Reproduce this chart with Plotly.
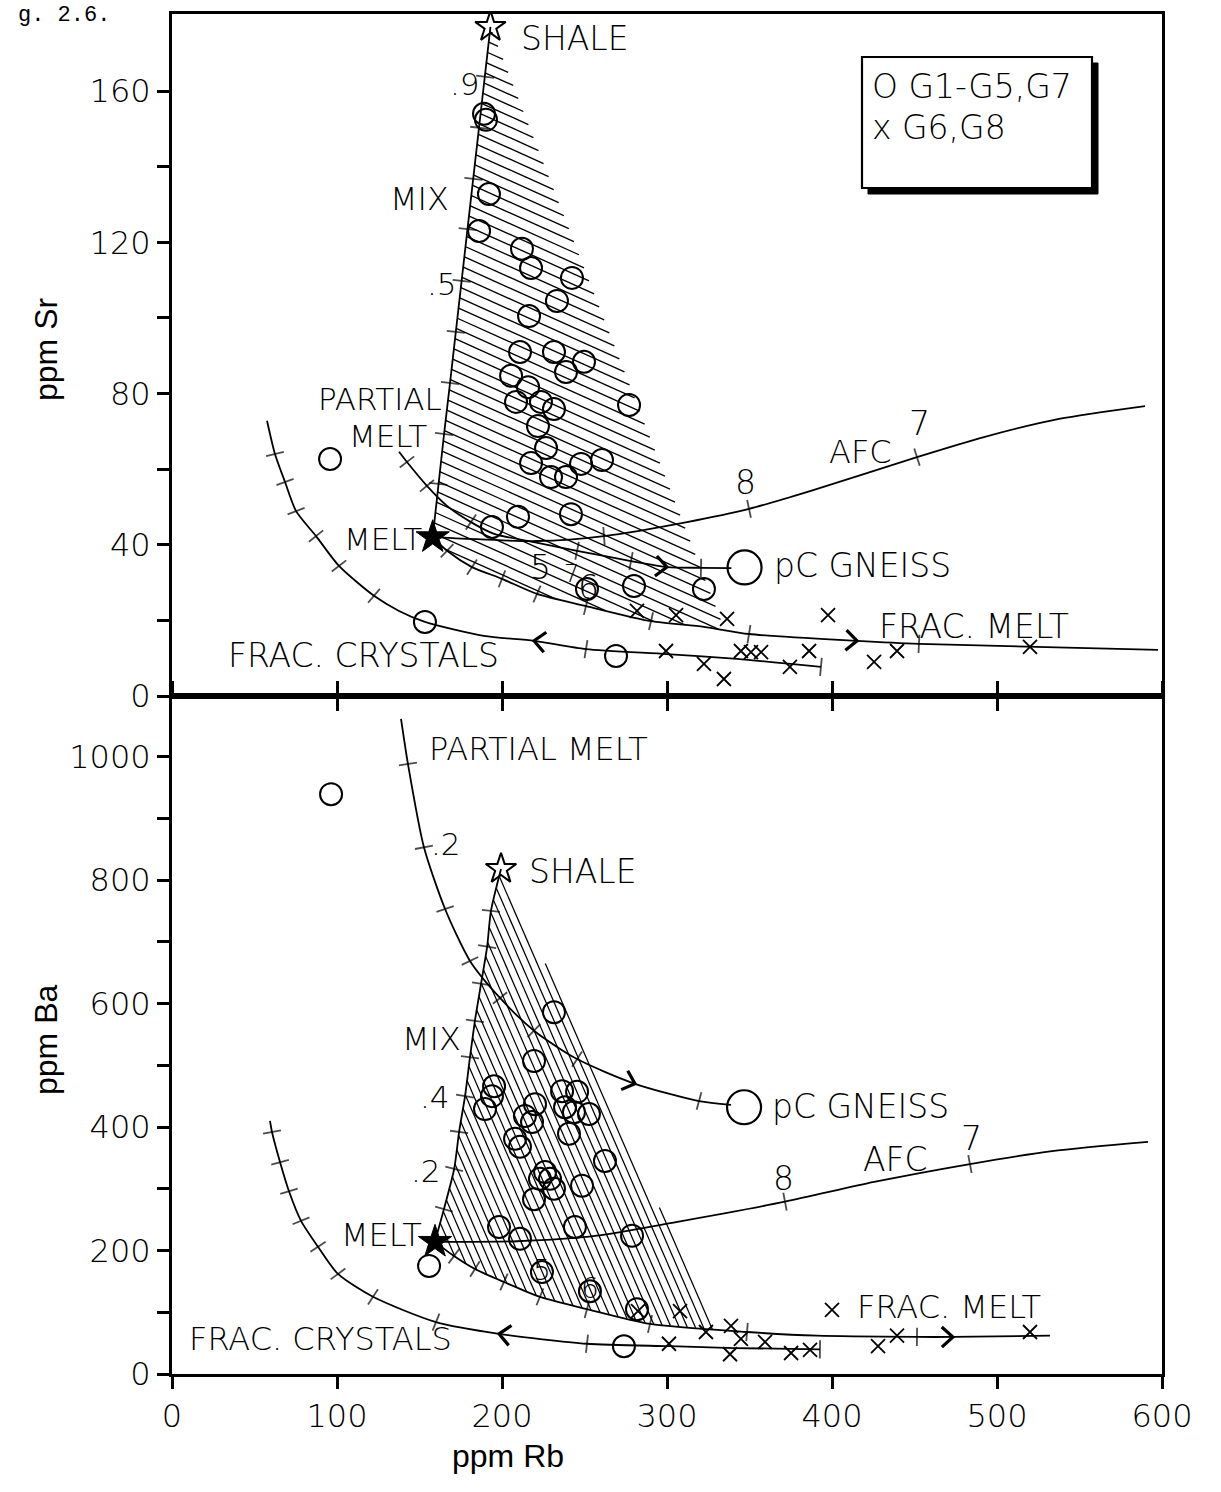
import numpy as np
import plotly.graph_objects as go

INK = "black"
FONT = "DejaVu Sans"
FONT_WEIGHT = 200

# ---------------- axes ----------------
RB_RANGE = [0, 600]
SR_RANGE = [0, 180.4]
BA_RANGE = [0, 1098]
RB_TICKS = [0, 100, 200, 300, 400, 500, 600]
SR_TICKS = [0, 20, 40, 60, 80, 100, 120, 140, 160]
SR_TICK_TEXT = ["0", "", "40", "", "80", "", "120", "", "160"]
BA_TICKS = [0, 100, 200, 300, 400, 500, 600, 700, 800, 900, 1000]
BA_TICK_TEXT = ["0", "", "200", "", "400", "", "600", "", "800", "", "1000"]

# ---------------- Sr vs Rb (upper panel) ----------------
SR_SHALE = (193.0, 177.0)
SR_MELT = (158.0, 42.0)
SR_GNEISS = (347.0, 34.0)

# melt - shale mixing line, ticks every 0.1
SR_MIX_RB = [158.0, 161.4, 164.9, 168.5, 172.0, 175.6, 179.2, 182.7, 186.2, 189.8, 193.0]
SR_MIX_SR = [42.0, 56.1, 69.3, 82.8, 96.3, 109.8, 123.5, 136.8, 150.3, 163.8, 177.0]

SR_PM_RB = [137.6, 142.4, 154.5, 166.7, 181.2, 195.2, 219.4, 245.5, 278.2, 300.0, 320.6, 339.0]
SR_PM_SR = [64.6, 61.9, 55.6, 50.3, 46.0, 42.9, 40.7, 38.4, 35.7, 34.1, 33.9, 33.8]
SR_PM_TICKS = [1, 2, 4, 7, 8, 10]

SR_FM_RB = [158.0, 166.7, 181.8, 200.0, 221.2, 250.9, 290.3, 322.4, 349.7, 415.2, 452.7, 597.6]
SR_FM_SR = [42.0, 38.4, 34.1, 31.0, 27.0, 23.8, 19.8, 18.3, 16.4, 14.6, 13.8, 12.2]
SR_FM_TICKS = [1, 2, 3, 4, 5, 6, 8, 10]

SR_FC_RB = [57.6, 62.4, 68.5, 75.2, 87.3, 101.2, 122.4, 137.6, 153.3, 189.0, 219.4, 250.9, 300.0, 342.4, 393.3]
SR_FC_SR = [72.8, 64.0, 56.6, 48.9, 42.3, 34.4, 26.5, 22.5, 19.6, 15.9, 14.6, 12.4, 11.1, 9.8, 7.7]
SR_FC_TICKS = [0, 1, 2, 3, 4, 5, 6, 11, 14]

SR_AFC_RB = [158.0, 221.2, 261.8, 312.1, 349.7, 386.7, 451.5, 492.1, 537.6, 589.7]
SR_AFC_SR = [42.0, 41.0, 42.3, 46.0, 49.5, 54.2, 63.2, 68.5, 73.3, 76.7]
SR_AFC_TICKS = [2, 4, 6]

SR_HATCH_END_RB = 335.0

# samples G1-G5, G7
SR_G1_RB = [189.1, 190.3, 192.1, 186.1, 212.1, 217.6, 242.4, 233.3, 216.4, 210.9, 231.5, 249.7,
            238.8, 205.5, 215.8, 208.5, 223.6, 231.5, 277.0, 221.8, 226.7, 217.6, 247.9, 260.6,
            229.7, 238.8, 241.8, 209.7, 193.9, 280.0, 251.5, 322.4, 95.8, 153.3, 269.1]
SR_G1_SR = [154.0, 152.4, 132.8, 123.0, 118.3, 113.2, 110.6, 104.5, 100.5, 91.0, 91.0, 88.4,
            85.7, 84.7, 81.7, 77.8, 77.8, 75.9, 77.0, 71.4, 65.6, 61.6, 61.4, 62.4,
            57.9, 57.9, 48.1, 47.4, 44.7, 29.1, 28.3, 28.3, 62.7, 19.6, 10.6]
# samples G6, G8
SR_G6_RB = [281.8, 305.5, 336.4, 397.6, 299.4, 322.4, 334.5, 344.8, 350.9, 357.0, 374.5, 386.1,
            425.5, 439.4, 520.0]
SR_G6_SR = [22.5, 21.4, 20.4, 21.4, 11.9, 8.5, 4.5, 11.9, 11.6, 11.6, 7.7, 11.9,
            9.0, 11.9, 13.0]

# ---------------- Ba vs Rb (lower panel) ----------------
BA_SHALE = (199.4, 818.0)
BA_MELT = (159.4, 214.0)
BA_GNEISS = (346.7, 432.0)

BA_MIX_RB = [159.4, 164.8, 171.0, 174.0, 177.6, 180.6, 183.6, 187.3, 191.0, 193.3, 199.4]
BA_MIX_BA = [214, 267, 332, 392, 450, 513, 572, 632, 692, 750, 818]

BA_PM_RB = [138.8, 143.0, 152.7, 165.5, 180.6, 198.8, 219.4, 245.5, 280.6, 319.4, 338.8]
BA_PM_BA = [1061, 988, 853, 753, 669, 609, 556, 510, 470, 442, 436]
BA_PM_TICKS = [1, 2, 3, 4, 5, 6, 7, 9]

BA_FM_RB = [159.4, 170.9, 183.6, 201.2, 223.0, 251.5, 289.7, 348.5, 390.9, 451.5, 473.3, 532.1]
BA_FM_BA = [214, 191, 170, 149, 125, 105, 81, 68, 62, 60, 60, 62]
BA_FM_TICKS = [1, 2, 3, 4, 5, 6, 7, 9]

BA_FC_RB = [59.4, 60.6, 65.5, 70.9, 78.2, 88.5, 100.6, 121.8, 160.0, 198.2, 251.5, 301.8, 340.6, 392.7]
BA_FC_BA = [410, 392, 343, 296, 248, 206, 162, 125, 84, 65, 49, 45, 42, 40]
BA_FC_TICKS = [1, 2, 3, 4, 5, 6, 7, 8, 10, 13]

BA_AFC_RB = [159.4, 209.1, 257.6, 305.5, 371.5, 425.5, 483.6, 533.3, 591.5]
BA_AFC_BA = [214, 215, 224, 246, 279, 311, 340, 361, 376]
BA_AFC_TICKS = [4, 6]

BA_HATCH_END_RB = 330.0

BA_G1_RB = [231.5, 219.4, 195.2, 193.9, 189.7, 220.0, 213.9, 218.2, 207.9, 210.9, 236.4, 245.5,
            238.2, 243.6, 252.7, 240.6, 262.4, 226.1, 229.1, 223.0, 231.5, 219.4, 248.5, 198.2,
            210.9, 244.2, 278.8, 155.8, 224.2, 253.3, 96.4, 273.9, 281.8]
BA_G1_BA = [586, 507, 466, 450, 429, 437, 418, 408, 381, 368, 458, 457,
            432, 424, 421, 389, 345, 327, 316, 316, 300, 283, 305, 238,
            219, 238, 224, 175, 165, 134, 939, 45, 105]
BA_G6_RB = [307.9, 301.2, 323.6, 338.8, 344.8, 338.2, 359.4, 375.2, 386.7, 427.9, 439.4, 520.0,
            400.0, 282.4]
BA_G6_BA = [102, 49, 68, 78, 57, 32, 52, 34, 39, 45, 62, 68, 104, 102]

# ---------------- text labels (text, Rb, value, anchor, size) ----------------
SR_LABELS = [
    ("SHALE", 210.3, 173.8, "left", 33),
    (".9", 187.9, 161.9, "right", 31),
    ("MIX", 149.7, 131.5, "center", 32),
    (".5", 173.9, 109.0, "right", 31),
    ("PARTIAL", 164.8, 78.6, "right", 31),
    ("MELT", 155.8, 68.8, "right", 31),
    ("MELT", 152.7, 41.5, "right", 31),
    ("AFC", 417.0, 64.6, "center", 32),
    ("7", 453.3, 72.0, "center", 33),
    ("8", 347.3, 56.6, "center", 33),
    ("pC GNEISS", 363.6, 34.4, "left", 33),
    ("5", 223.6, 34.1, "center", 33),
    ("7", 242.4, 32.3, "center", 24),
    ("6", 252.7, 28.8, "center", 33),
    ("FRAC. MELT", 427.3, 18.3, "left", 33),
    ("FRAC. CRYSTALS", 32.7, 10.6, "left", 33),
]
BA_LABELS = [
    ("PARTIAL MELT", 154.5, 1012, "left", 32),
    (".2", 155.8, 858, "left", 31),
    ("SHALE", 215.2, 813, "left", 33),
    ("MIX", 157.0, 542, "center", 32),
    (".4", 169.7, 449, "right", 31),
    (".2", 164.2, 329, "right", 31),
    ("MELT", 152.7, 225, "right", 32),
    ("pC GNEISS", 362.4, 434, "left", 33),
    ("AFC", 438.2, 348, "center", 33),
    ("8", 370.9, 316, "center", 33),
    ("7", 484.8, 381, "center", 33),
    ("5", 224.2, 167, "center", 28),
    ("6", 253.3, 138, "center", 28),
    ("FRAC. MELT", 413.9, 108.5, "left", 32),
    ("FRAC. CRYSTALS", 9.1, 56.7, "left", 32),
]

LEGEND_LINES = ["O G1-G5,G7", "x G6,G8"]

# ---------------- page geometry ----------------
W, H = 1221, 1492
PLOT_L, PLOT_R, PLOT_T, PLOT_MID, PLOT_B = 172, 1162, 14, 696, 1374
SX = (PLOT_R - PLOT_L) / (RB_RANGE[1] - RB_RANGE[0])
SY_TOP = (PLOT_MID - PLOT_T) / (SR_RANGE[1] - SR_RANGE[0])
SY_BOT = (PLOT_B - PLOT_MID) / (BA_RANGE[1] - BA_RANGE[0])


def paper(px, py):
    return (px - PLOT_L) / (PLOT_R - PLOT_L), (PLOT_B - py) / (PLOT_B - PLOT_T)


def to_px(rb, v, sy):
    return np.column_stack([np.asarray(rb, float) * SX, -np.asarray(v, float) * sy])


def from_px(p, sy):
    return p[:, 0] / SX, -p[:, 1] / sy


def curve_until(rb, v, rb_end):
    rb = np.asarray(rb, float)
    v = np.asarray(v, float)
    keep = rb < rb_end
    return list(rb[keep]) + [rb_end], list(v[keep]) + [float(np.interp(rb_end, rb, v))]


def hatch(poly_rb, poly_v, sy, slope, gap):
    """Parallel hatch segments clipped to a polygon (slope in screen pixels)."""
    P = to_px(poly_rb, poly_v, sy)
    d = np.array([1.0, slope])
    d /= np.hypot(*d)
    n = np.array([-d[1], d[0]])
    proj = P @ n
    xs, ys = [], []
    c = proj.min() + gap / 2
    while c < proj.max():
        hits = []
        for a, b in zip(P, np.roll(P, -1, axis=0)):
            fa, fb = a @ n - c, b @ n - c
            if (fa < 0) != (fb < 0):
                hits.append(a + fa / (fa - fb) * (b - a))
        hits.sort(key=lambda q: q @ d)
        for j in range(0, len(hits) - 1, 2):
            r, v = from_px(np.array([hits[j], hits[j + 1]]), sy)
            xs += list(r) + [None]
            ys += list(v) + [None]
        c += gap
    return xs, ys


def chevron(rb, v, i, sign, sy, arm=15.0, spread=42.0):
    P = to_px(rb, v, sy)
    u = (P[min(i + 1, len(P) - 1)] - P[max(i - 1, 0)]) * sign
    u /= np.hypot(*u)
    tip = P[i]
    ends = []
    for ang in (spread, -spread):
        t = np.radians(ang)
        rot = np.array([[np.cos(t), -np.sin(t)], [np.sin(t), np.cos(t)]])
        ends.append(tip - arm * (rot @ u))
    return from_px(np.array([ends[0], tip, ends[1]]), sy)


fig = go.Figure()
PANELS = {"top": ("x", "y", SY_TOP), "bot": ("x2", "y2", SY_BOT)}


def add_line(panel, xs, ys, width=1.2):
    xa, ya, _ = PANELS[panel]
    fig.add_trace(go.Scatter(x=xs, y=ys, mode="lines", xaxis=xa, yaxis=ya,
                             line=dict(color=INK, width=width), hoverinfo="skip"))


def add_curve(panel, rb, v, ticks, shape="spline"):
    xa, ya, _ = PANELS[panel]
    sizes = [13 if i in ticks else 0 for i in range(len(rb))]
    fig.add_trace(go.Scatter(
        x=rb, y=v, mode="lines+markers", xaxis=xa, yaxis=ya, hoverinfo="skip",
        line=dict(color=INK, width=1.8, shape=shape, smoothing=0.7),
        marker=dict(symbol="line-ew", size=sizes, angleref="previous", color=INK,
                    line=dict(color=INK, width=1.8))))


def add_arrow(panel, rb, v, i, sign):
    _, _, sy = PANELS[panel]
    cx, cy = chevron(rb, v, i, sign, sy)
    add_line(panel, list(cx), list(cy), width=3.2)


def add_points(panel, rb, v, symbol, size, lw):
    xa, ya, _ = PANELS[panel]
    fig.add_trace(go.Scatter(
        x=rb, y=v, mode="markers", xaxis=xa, yaxis=ya, hoverinfo="skip",
        marker=dict(symbol=symbol, size=size, color=INK, line=dict(color=INK, width=lw))))


# ---- hatched mixing fields ----
fm_rb, fm_v = curve_until(SR_FM_RB, SR_FM_SR, SR_HATCH_END_RB)
hx, hy = hatch(SR_MIX_RB + fm_rb[::-1], SR_MIX_SR + fm_v[::-1], SY_TOP, 0.45, 9.8)
add_line("top", hx, hy, 1.35)

fm_rb, fm_v = curve_until(BA_FM_RB, BA_FM_BA, BA_HATCH_END_RB)
hx, hy = hatch(BA_MIX_RB + fm_rb[::-1], BA_MIX_BA + fm_v[::-1], SY_BOT, 2.3, 7.4)
add_line("bot", hx, hy, 1.25)

# ---- model curves: Sr panel ----
add_curve("top", SR_MIX_RB, SR_MIX_SR, list(range(1, 10)), shape="linear")
add_curve("top", SR_PM_RB, SR_PM_SR, SR_PM_TICKS)
add_curve("top", SR_FM_RB, SR_FM_SR, SR_FM_TICKS)
add_curve("top", SR_FC_RB, SR_FC_SR, SR_FC_TICKS)
add_curve("top", SR_AFC_RB, SR_AFC_SR, SR_AFC_TICKS)
add_arrow("top", SR_PM_RB, SR_PM_SR, 9, 1)
add_arrow("top", SR_FM_RB, SR_FM_SR, 9, 1)
add_arrow("top", SR_FC_RB, SR_FC_SR, 10, -1)

# ---- model curves: Ba panel ----
add_curve("bot", BA_MIX_RB, BA_MIX_BA, list(range(1, 10)))
add_curve("bot", BA_PM_RB, BA_PM_BA, BA_PM_TICKS)
add_curve("bot", BA_FM_RB, BA_FM_BA, BA_FM_TICKS)
add_curve("bot", BA_FC_RB, BA_FC_BA, BA_FC_TICKS)
add_curve("bot", BA_AFC_RB, BA_AFC_BA, BA_AFC_TICKS)
add_arrow("bot", BA_PM_RB, BA_PM_BA, 8, 1)
add_arrow("bot", BA_FM_RB, BA_FM_BA, 10, 1)
add_arrow("bot", BA_FC_RB, BA_FC_BA, 9, -1)

# ---- samples and end members ----
for panel, g1, g6, shale, melt, gneiss in [
        ("top", (SR_G1_RB, SR_G1_SR), (SR_G6_RB, SR_G6_SR), SR_SHALE, SR_MELT, SR_GNEISS),
        ("bot", (BA_G1_RB, BA_G1_BA), (BA_G6_RB, BA_G6_BA), BA_SHALE, BA_MELT, BA_GNEISS)]:
    add_points(panel, *g1, "circle-open", 22, 2.0)
    add_points(panel, *g6, "x-thin-open", 14, 1.8)
    add_points(panel, [gneiss[0]], [gneiss[1]], "circle-open", 34, 2.2)
    add_points(panel, [shale[0]], [shale[1]], "star-open", 23, 2.0)
    add_points(panel, [melt[0]], [melt[1]], "star", 25, 1.0)

# ---- labels ----
label_font = dict(family=FONT, color=INK, weight=FONT_WEIGHT)
annotations = []
for labels, xr, yr in [(SR_LABELS, "x", "y"), (BA_LABELS, "x2", "y2")]:
    for text, rb, v, anchor, size in labels:
        annotations.append(dict(text=text, x=rb, y=v, xref=xr, yref=yr, xanchor=anchor,
                                yanchor="middle", showarrow=False,
                                font=dict(label_font, size=size)))

title_font = dict(family="Liberation Sans", size=32, color=INK)
for text, (px, py), ang in [("ppm Sr", (46, 350), -90), ("ppm Ba", (46, 1040), -90),
                            ("ppm Rb", (508, 1456), 0)]:
    ax, ay = paper(px, py)
    annotations.append(dict(text=text, x=ax, y=ay, xref="paper", yref="paper",
                            textangle=ang, showarrow=False, font=title_font,
                            xanchor="center", yanchor="middle"))

fx, fy = paper(112, 16)
annotations.append(dict(text="g. 2.6.", x=fx, y=fy, xref="paper", yref="paper",
                        xanchor="right", yanchor="middle", showarrow=False,
                        font=dict(family="Liberation Mono", size=22, color=INK)))

for k, line in enumerate(LEGEND_LINES):
    lx, ly = paper(870, 86 + 41 * k)
    annotations.append(dict(text=line, x=lx, y=ly, xref="paper", yref="paper",
                            xanchor="left", yanchor="middle", showarrow=False,
                            font=dict(label_font, size=33)))

# legend frame with drop shadow
bx0, by0 = paper(862, 188)
bx1, by1 = paper(1092, 57)
sx0, sy0 = paper(868, 194)
sx1, sy1 = paper(1098, 63)
shapes = [
    dict(type="rect", xref="paper", yref="paper", x0=sx0, y0=sy0, x1=sx1, y1=sy1,
         fillcolor=INK, line=dict(color=INK, width=1)),
    dict(type="rect", xref="paper", yref="paper", x0=bx0, y0=by0, x1=bx1, y1=by1,
         fillcolor="white", line=dict(color=INK, width=2.2)),
]

tick_font = dict(label_font, size=32)
split = (PLOT_B - PLOT_MID) / (PLOT_B - PLOT_T)
axis_common = dict(showgrid=False, zeroline=False, showline=True, linecolor=INK,
                   linewidth=3, ticks="outside", tickcolor=INK, tickwidth=2.5,
                   ticklen=12, tickfont=tick_font)

fig.update_layout(
    width=W, height=H, showlegend=False,
    margin=dict(l=PLOT_L, r=W - PLOT_R, t=PLOT_T, b=H - PLOT_B),
    paper_bgcolor="white", plot_bgcolor="white",
    xaxis=dict(axis_common, domain=[0, 1], anchor="y", range=RB_RANGE,
               tickvals=RB_TICKS[1:-1], showticklabels=False, mirror=True),
    yaxis=dict(axis_common, domain=[split, 1], anchor="x", range=SR_RANGE,
               tickvals=SR_TICKS, ticktext=SR_TICK_TEXT, mirror=True),
    xaxis2=dict(axis_common, domain=[0, 1], anchor="y2", range=RB_RANGE,
                tickvals=RB_TICKS, mirror="ticks"),
    yaxis2=dict(axis_common, domain=[0, split], anchor="x2", range=BA_RANGE,
                tickvals=BA_TICKS, ticktext=BA_TICK_TEXT, mirror=True),
    annotations=annotations, shapes=shapes,
)

fig.write_html("out.html")
